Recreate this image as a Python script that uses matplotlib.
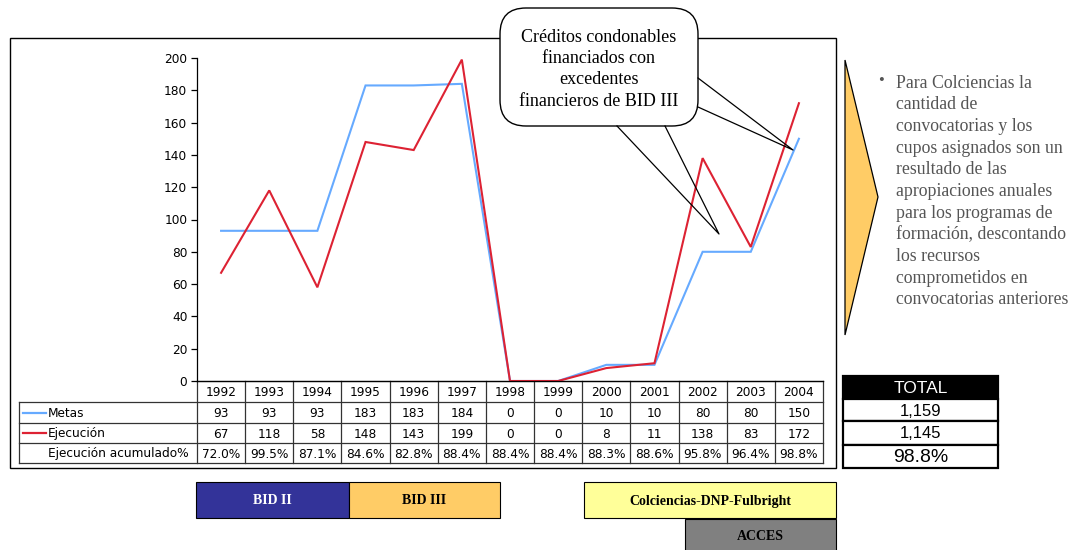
import matplotlib
matplotlib.use("Agg")
import matplotlib.pyplot as plt
import matplotlib.patches as mpatches

# ── datos ────────────────────────────────────────────────────────────────
anios = ["1992", "1993", "1994", "1995", "1996", "1997", "1998",
         "1999", "2000", "2001", "2002", "2003", "2004"]
metas = [93, 93, 93, 183, 183, 184, 0, 0, 10, 10, 80, 80, 150]
ejecucion = [67, 118, 58, 148, 143, 199, 0, 0, 8, 11, 138, 83, 172]
ejec_acum = [72.0, 99.5, 87.1, 84.6, 82.8, 88.4, 88.4, 88.4, 88.3, 88.6, 95.8, 96.4, 98.8]

total_metas = sum(metas)
total_ejec = sum(ejecucion)
total_pct = 100.0 * total_ejec / total_metas

nota_callout = ["Créditos condonables", "financiados con", "excedentes",
                "financieros de BID III"]
nota_lateral = ["Para Colciencias la", "cantidad de", "convocatorias y los",
                "cupos asignados son un", "resultado de las",
                "apropiaciones anuales", "para los programas de",
                "formación, descontando", "los recursos",
                "comprometidos en", "convocatorias anteriores"]

# periodos de financiación (inicio px, fin px, fila, etiqueta, color fondo, color texto)
programas = [
    ("BID II", 196, 349, 0, "#333399", "white"),
    ("BID III", 349, 500, 0, "#FFCC66", "black"),
    ("Colciencias-DNP-Fulbright", 584, 836, 0, "#FFFF99", "black"),
    ("ACCES", 685, 836, 1, "#808080", "black"),
]

AZUL = "#66AAFF"
ROJO = "#DD2233"
W, H = 1073, 550

fig = plt.figure(figsize=(W / 100, H / 100), dpi=100)
fig.patch.set_facecolor("white")

# capa de fondo en coordenadas de pixel
bg = fig.add_axes([0, 0, 1, 1], zorder=0)
bg.set_xlim(0, W)
bg.set_ylim(H, 0)
bg.axis("off")

# área de la gráfica
x0, x1, y_top, y_cero = 197, 823, 58, 381
ax = fig.add_axes([x0 / W, 1 - y_cero / H, (x1 - x0) / W, (y_cero - y_top) / H], zorder=1)
ax.patch.set_alpha(0)
n = len(anios)
xs = list(range(n))
ax.plot(xs, metas, color=AZUL, lw=1.5, solid_joinstyle="miter")
ax.plot(xs, ejecucion, color=ROJO, lw=1.5, solid_joinstyle="miter")
ax.set_xlim(-0.5, n - 0.5)
ax.set_ylim(0, 200)
ax.set_yticks(range(0, 201, 20))
ax.set_xticks([])
for s in ("top", "right"):
    ax.spines[s].set_visible(False)
ax.spines["left"].set_linewidth(0.9)
ax.spines["bottom"].set_linewidth(0.9)
ax.tick_params(axis="y", direction="out", length=4, width=0.9, pad=3,
               labelsize=8.7, labelfontfamily="DejaVu Sans")

# ── tabla de datos ───────────────────────────────────────────────────────
col_w = (x1 - x0) / n
filas = [381, 402, 423, 443, 463]
tab_x = 19
lc = "#333333"
bg.plot([x0, x1], [filas[0], filas[0]], color=lc, lw=0.9)
for yy in filas[1:]:
    bg.plot([tab_x, x1], [yy, yy], color=lc, lw=0.9)
bg.plot([tab_x, tab_x], [filas[1], filas[-1]], color=lc, lw=0.9)
for i in range(n + 1):
    xx = x0 + i * col_w
    bg.plot([xx, xx], [filas[0], filas[-1]], color=lc, lw=0.9)

celdas = [anios, [str(v) for v in metas], [str(v) for v in ejecucion],
          [f"{v:.1f}%" for v in ejec_acum]]
for r, valores in enumerate(celdas):
    yc = (filas[r] + filas[r + 1]) / 2
    for i, txt in enumerate(valores):
        bg.text(x0 + (i + 0.5) * col_w, yc + 1, txt, ha="center", va="center",
                fontsize=8.7, family="DejaVu Sans")

etiquetas = [("Metas", AZUL), ("Ejecución", ROJO), ("Ejecución acumulado%", None)]
for r, (lab, col) in enumerate(etiquetas, start=1):
    yc = (filas[r] + filas[r + 1]) / 2
    if col:
        bg.plot([23, 46], [yc, yc], color=col, lw=1.6)
    bg.text(48, yc + 1, lab, ha="left", va="center", fontsize=8.7, family="DejaVu Sans")

# marco exterior
bg.add_patch(mpatches.Rectangle((10, 38), 826, 430, fill=False, ec="black", lw=1.0))

# ── flecha y nota lateral ────────────────────────────────────────────────
bg.add_patch(mpatches.Polygon([(845, 60), (878, 197), (845, 335)], closed=True,
                              fc="#FFCC66", ec="black", lw=0.9))
bg.text(878, 81, "•", ha="left", va="center", fontsize=12,
        family="Liberation Serif", color="#555555")
for k, linea in enumerate(nota_lateral):
    bg.text(896, 83 + k * 21.7, linea, ha="left", va="center", fontsize=12.8,
            family="Liberation Serif", color="#555555")

# ── tabla de totales ─────────────────────────────────────────────────────
tx, tw = 843, 155
tot_filas = [(376, 399, "TOTAL", "black", "white", 12.5),
             (399, 421, f"{total_metas:,}", "white", "black", 12),
             (421, 445, f"{total_ejec:,}", "white", "black", 12),
             (445, 468, f"{total_pct:.1f}%", "white", "black", 14)]
for ya, yb, txt, fc, tc, fs in tot_filas:
    bg.add_patch(mpatches.Rectangle((tx, ya), tw, yb - ya, fc=fc, ec="black", lw=1.6))
    bg.text(tx + tw / 2, (ya + yb) / 2 + 1, txt, ha="center", va="center",
            fontsize=fs, family="Liberation Sans", color=tc)

# ── barras de programas ──────────────────────────────────────────────────
for lab, xa, xb, fila, fc, tc in programas:
    ya = 482 + fila * 37
    hh = 36 if fila == 0 else 33
    bg.add_patch(mpatches.Rectangle((xa, ya), xb - xa, hh, fc=fc, ec="black", lw=0.8))
    bg.text((xa + xb) / 2, ya + hh / 2 + 1, lab, ha="center", va="center",
            fontsize=10, family="Liberation Serif", weight="bold", color=tc)

# ── globo de texto (encima de todo) ──────────────────────────────────────
fg = fig.add_axes([0, 0, 1, 1], zorder=2)
fg.set_xlim(0, W)
fg.set_ylim(H, 0)
fg.axis("off")
fg.patch.set_alpha(0)

for (pa, pb, punta) in [((617, 126), (665, 126), (719, 234)),
                        ((698, 78), (698, 107), (793, 150))]:
    fg.plot([pa[0], punta[0], pb[0]], [pa[1], punta[1], pb[1]], color="black", lw=0.9)
fg.add_patch(mpatches.FancyBboxPatch((500, 8), 198, 118,
                                     boxstyle="round,pad=0,rounding_size=26",
                                     fc="white", ec="black", lw=1.0))
for k, linea in enumerate(nota_callout):
    fg.text(599, 37 + k * 21.4, linea, ha="center", va="center", fontsize=13,
            family="Liberation Serif", color="black")

fig.savefig("out.png", dpi=100)
